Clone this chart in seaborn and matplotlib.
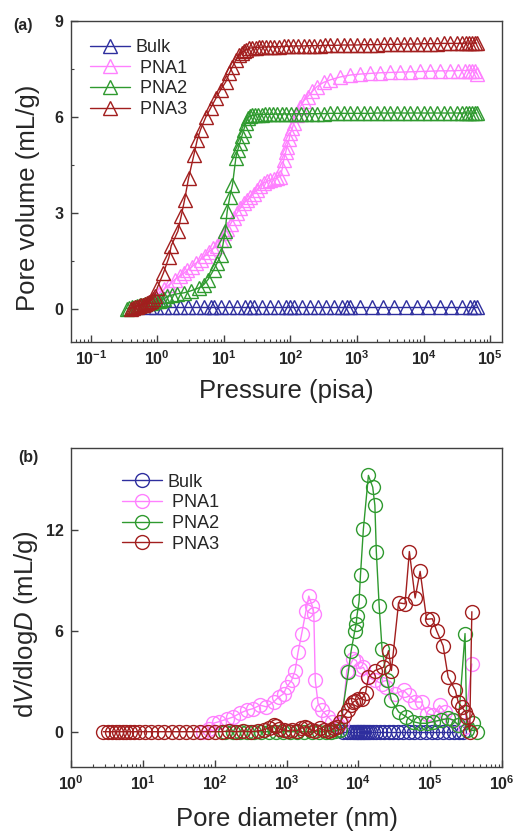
import numpy as np
import matplotlib
matplotlib.use('Agg')
import matplotlib.pyplot as plt
import seaborn as sns
from matplotlib.ticker import MultipleLocator, LogLocator, FixedLocator

sns.set_style('ticks')
plt.rcParams['font.family'] = ['Liberation Sans', 'DejaVu Sans']
plt.rcParams['mathtext.fontset'] = 'custom'
plt.rcParams['mathtext.rm'] = 'Liberation Sans'
plt.rcParams['mathtext.it'] = 'Liberation Sans:italic'
plt.rcParams['mathtext.bf'] = 'Liberation Sans:bold'

# (a) 压汞 -- 孔体积 vs 压力 (log10 pressure, mL/g)
bulk_logp = [-0.13, -0.02, 0.10, 0.22, 0.34, 0.46, 0.58, 0.70, 0.80, 0.85,
             0.96, 1.08, 1.20, 1.32, 1.40, 1.45, 1.57, 1.69, 1.81, 1.93,
             2.00, 2.05, 2.17, 2.29, 2.41, 2.53, 2.65, 2.77, 2.85, 2.90,
             3.05, 3.22, 3.39, 3.56, 3.73, 3.90, 4.07, 4.24, 4.41, 4.58,
             4.70, 4.76, 4.80]
bulk_v = [0.05, 0.05, 0.05, 0.05, 0.05, 0.05, 0.05, 0.05, 0.05, 0.05,
          0.05, 0.05, 0.05, 0.05, 0.05, 0.05, 0.05, 0.05, 0.05, 0.05,
          0.05, 0.05, 0.05, 0.05, 0.05, 0.05, 0.05, 0.05, 0.05, 0.05,
          0.05, 0.05, 0.05, 0.05, 0.05, 0.05, 0.05, 0.05, 0.05, 0.05,
          0.05, 0.05, 0.05]

pna1_logp = [-0.20, -0.12, -0.05, 0.02, 0.10, 0.18, 0.26, 0.34, 0.40, 0.45,
             0.52, 0.58, 0.65, 0.72, 0.78, 0.84, 0.90, 0.95, 1.00, 1.05,
             1.10, 1.15, 1.20, 1.25, 1.30, 1.35, 1.40, 1.45, 1.50, 1.55,
             1.60, 1.65, 1.70, 1.75, 1.80, 1.85, 1.88, 1.90, 1.93, 1.95,
             1.98, 2.00, 2.03, 2.05, 2.10, 2.15, 2.20, 2.26, 2.33, 2.40,
             2.50, 2.60, 2.75, 2.90, 3.05, 3.20, 3.35, 3.50, 3.65, 3.80,
             3.95, 4.10, 4.25, 4.40, 4.52, 4.62, 4.68, 4.73, 4.77, 4.80]
pna1_v = [0.10, 0.20, 0.30, 0.45, 0.60, 0.75, 0.90, 1.02, 1.10, 1.20,
          1.30, 1.42, 1.53, 1.65, 1.78, 1.88, 1.95, 2.15, 2.37, 2.50,
          2.65, 2.82, 3.00, 3.15, 3.30, 3.40, 3.50, 3.60, 3.72, 3.85,
          3.93, 3.98, 4.02, 4.05, 4.10, 4.13, 4.40, 4.66, 4.90, 5.07,
          5.30, 5.49, 5.65, 5.80, 6.05, 6.32, 6.50, 6.63, 6.80, 6.95,
          7.08, 7.16, 7.25, 7.31, 7.34, 7.36, 7.38, 7.39, 7.40, 7.41,
          7.42, 7.43, 7.44, 7.44, 7.45, 7.45, 7.45, 7.45, 7.45, 7.35]

pna2_logp = [-0.46, -0.42, -0.38, -0.34, -0.30, -0.26, -0.22, -0.18, -0.14, -0.10,
             -0.06, -0.02, 0.02, 0.06, 0.10,
             0.15, 0.22, 0.30, 0.40, 0.50, 0.63, 0.70, 0.76, 0.85, 0.90,
             0.96, 1.00, 1.02, 1.05, 1.09, 1.13, 1.18, 1.21, 1.24, 1.27,
             1.30, 1.33, 1.36, 1.39,
             1.43, 1.47, 1.52, 1.57, 1.62, 1.68, 1.74, 1.80, 1.87, 1.94,
             2.01, 2.08, 2.16, 2.24, 2.32, 2.40, 2.50, 2.60, 2.70, 2.80,
             2.90, 3.00, 3.10, 3.20, 3.30, 3.40, 3.50, 3.60, 3.70, 3.80,
             3.90, 4.00, 4.10, 4.20, 4.30, 4.40, 4.50, 4.58, 4.64, 4.69,
             4.73, 4.77, 4.80]
pna2_v = [0.00, 0.02, 0.04, 0.06, 0.08, 0.10, 0.12, 0.14, 0.16, 0.18,
          0.20, 0.22, 0.24, 0.27, 0.30,
          0.38, 0.42, 0.46, 0.49, 0.55, 0.65, 0.75, 0.90, 1.22, 1.43,
          1.69, 2.16, 2.42, 3.04, 3.50, 3.88, 4.71, 4.97, 5.18, 5.40,
          5.60, 5.80, 5.95, 6.02,
          6.05, 6.06, 6.07, 6.07, 6.08, 6.08, 6.08, 6.09, 6.09, 6.09,
          6.09, 6.10, 6.10, 6.10, 6.10, 6.10, 6.10, 6.11, 6.11, 6.11,
          6.11, 6.11, 6.11, 6.11, 6.12, 6.12, 6.12, 6.12, 6.12, 6.12,
          6.12, 6.12, 6.12, 6.12, 6.12, 6.12, 6.12, 6.12, 6.12, 6.12,
          6.12, 6.12, 6.12]

pna3_logp = [-0.40, -0.37, -0.34, -0.31, -0.28, -0.25, -0.22, -0.19, -0.16, -0.13,
             -0.10, -0.07, -0.04, 0.00,
             0.09, 0.175, 0.21, 0.31, 0.36, 0.41, 0.47, 0.55, 0.60, 0.65,
             0.73, 0.80, 0.88, 0.95, 1.03, 1.08, 1.13, 1.18, 1.23, 1.27, 1.30,
             1.34, 1.38, 1.43, 1.48, 1.53, 1.58, 1.64, 1.70, 1.76, 1.83,
             1.90, 1.97, 2.04, 2.12, 2.20, 2.28, 2.36, 2.44, 2.52, 2.60,
             2.70, 2.80, 2.90, 3.00, 3.10, 3.20, 3.30, 3.40, 3.50, 3.60,
             3.70, 3.80, 3.90, 4.00, 4.10, 4.20, 4.30, 4.40, 4.50,
             4.58, 4.64, 4.69, 4.73, 4.77, 4.80]
pna3_v = [0.00, 0.02, 0.04, 0.06, 0.08, 0.10, 0.12, 0.15, 0.18, 0.21,
          0.25, 0.30, 0.38, 0.65,
          1.10, 1.60, 1.97, 2.42, 2.90, 3.40, 4.08, 4.81, 5.28, 5.60,
          6.00, 6.27, 6.58, 6.84, 7.10, 7.36, 7.57, 7.78, 7.94, 8.00, 8.06,
          8.10, 8.15, 8.16, 8.17, 8.18, 8.18, 8.19, 8.19, 8.20, 8.20,
          8.21, 8.21, 8.22, 8.22, 8.22, 8.23, 8.23, 8.23, 8.24, 8.24,
          8.24, 8.25, 8.25, 8.25, 8.26, 8.26, 8.26, 8.27, 8.27, 8.27,
          8.28, 8.28, 8.28, 8.29, 8.29, 8.29, 8.30, 8.30, 8.30,
          8.30, 8.31, 8.31, 8.31, 8.31, 8.31]

# (b) 孔径分布 dV/dlogD (log10 diameter in nm)
bulk_logd = [3.79, 3.84, 3.88, 3.92, 3.95, 3.98, 4.00, 4.02, 4.04, 4.06,
             4.08, 4.10, 4.13, 4.16, 4.20, 4.25, 4.30, 4.36, 4.42, 4.48,
             4.55, 4.62, 4.70, 4.78, 4.86, 4.94, 5.02, 5.10, 5.18, 5.26,
             5.33, 5.40, 5.46]
bulk_dv = [0.0, 0.0, 0.0, 0.0, 0.0, 0.0, 0.0, 0.0, 0.0, 0.0,
           0.0, 0.0, 0.0, 0.0, 0.0, 0.0, 0.0, 0.0, 0.0, 0.0,
           0.0, 0.0, 0.0, 0.0, 0.0, 0.0, 0.0, 0.0, 0.0, 0.0,
           0.0, 0.0, 0.0]

pna1_logd = [1.84, 1.92, 1.98, 2.06, 2.17, 2.26, 2.35, 2.45, 2.54, 2.63,
             2.72, 2.82, 2.89, 2.96, 3.00, 3.07, 3.12, 3.16, 3.21, 3.27,
             3.31, 3.36, 3.38, 3.40, 3.44, 3.49, 3.58, 3.64, 3.71, 3.77,
             3.84, 3.93, 3.97, 4.02, 4.07, 4.14, 4.23, 4.33, 4.39, 4.51,
             4.63, 4.70, 4.79, 4.88, 4.95, 5.04, 5.13, 5.20, 5.30, 5.39,
             5.48, 5.58]
pna1_dv = [0.00, 0.15, 0.50, 0.60, 0.75, 0.88, 1.10, 1.28, 1.38, 1.58,
           1.48, 1.77, 2.06, 2.26, 2.65, 3.05, 3.64, 4.72, 5.80, 7.18,
           8.07, 7.47, 7.02, 3.05, 1.67, 1.28, 0.88, 0.60, 0.40, 0.50,
           3.64, 4.33, 4.23, 3.74, 3.83, 3.25, 3.05, 2.85, 2.65, 2.26,
           2.46, 2.16, 1.77, 1.77, 1.08, 0.98, 1.57, 1.18, 0.69, 0.40,
           0.30, 4.03]

pna2_logd = [2.15, 2.25, 2.35, 2.45, 2.55, 2.65, 2.75, 2.85, 2.95, 3.05,
             3.15, 3.25, 3.35, 3.45, 3.55, 3.62, 3.68, 3.74, 3.86, 3.90,
             3.95, 3.97, 3.98, 4.01, 4.03, 4.07, 4.14, 4.20, 4.23, 4.25,
             4.29, 4.33, 4.40, 4.46, 4.56, 4.67, 4.76, 4.86, 4.95, 5.04,
             5.15, 5.25, 5.32, 5.39, 5.485, 5.51, 5.60, 5.65]
pna2_dv = [0.00, 0.00, 0.00, 0.00, 0.00, 0.00, 0.00, 0.00, 0.00, 0.00,
           0.00, 0.00, 0.00, 0.00, 0.00, 0.00, 0.05, 0.10, 3.54, 4.82,
           6.00, 6.40, 6.88, 7.77, 9.35, 12.06, 15.25, 14.55, 13.47, 10.72,
           7.47, 4.92, 3.05, 1.87, 1.18, 0.88, 0.60, 0.50, 0.50, 0.60,
           0.70, 0.79, 0.70, 0.40, 5.84, 0.10, 0.50, 0.00]

pna3_logd = [0.45, 0.52, 0.57, 0.62, 0.67, 0.72, 0.77, 0.82, 0.88, 0.95,
             1.03, 1.12, 1.21, 1.30, 1.40, 1.50, 1.60, 1.70, 1.80, 1.90,
             2.00, 2.10, 2.20, 2.30, 2.40, 2.50, 2.60, 2.68, 2.76, 2.83,
             2.86, 2.90, 2.96, 3.02, 3.08, 3.14, 3.20, 3.26, 3.29, 3.34,
             3.40, 3.46, 3.52, 3.58, 3.62, 3.66, 3.70, 3.74, 3.80, 3.86,
             3.90, 3.93, 3.96, 4.00, 4.05, 4.10, 4.14, 4.23, 4.35, 4.42,
             4.46, 4.56, 4.65, 4.71, 4.79, 4.86, 4.95, 5.03, 5.09, 5.18,
             5.25, 5.35, 5.39, 5.44, 5.49, 5.51, 5.55, 5.58]
pna3_dv = [0.00, 0.00, 0.00, 0.00, 0.00, 0.00, 0.00, 0.00, 0.00, 0.00,
           0.00, 0.00, 0.00, 0.00, 0.00, 0.00, 0.00, 0.00, 0.00, 0.00,
           0.00, 0.00, 0.05, 0.00, 0.05, 0.00, 0.05, 0.10, 0.25, 0.40,
           0.35, 0.15, 0.10, 0.05, 0.10, 0.05, 0.20, 0.30, 0.25, 0.10,
           0.05, 0.20, 0.10, 0.05, 0.10, 0.20, 0.30, 0.55, 0.95, 1.28,
           1.60, 1.77, 1.85, 1.97, 1.97, 2.30, 3.25, 3.64, 3.83, 4.82,
           3.64, 7.67, 7.61, 10.72, 7.96, 9.54, 6.69, 6.72, 6.00, 5.11,
           3.25, 2.46, 1.77, 1.47, 1.18, 0.88, 0.00, 7.14]

names = ['Bulk', ' PNA1', ' PNA2', ' PNA3']
colors = ['#2e2e9e', '#ff80ff', '#2f9a2f', '#a21e1e']

# 刻度 (decades shown on each x axis)
top_decades = [1e-1, 1e0, 1e1, 1e2, 1e3, 1e4, 1e5]
bot_decades = [1e0, 1e1, 1e2, 1e3, 1e4, 1e5, 1e6]

top_sets = [(bulk_logp, bulk_v), (pna1_logp, pna1_v), (pna2_logp, pna2_v), (pna3_logp, pna3_v)]
bot_sets = [(bulk_logd, bulk_dv), (pna1_logd, pna1_dv), (pna2_logd, pna2_dv), (pna3_logd, pna3_dv)]

fig = plt.figure(figsize=(5.15, 8.31), dpi=100)
ax1 = fig.add_axes([0.1379, 0.5884, 0.8369, 0.3863])
ax2 = fig.add_axes([0.1379, 0.0774, 0.8369, 0.3839])

for (lx, v), name, c in zip(top_sets, names, colors):
    sns.lineplot(x=np.power(10.0, lx), y=v, ax=ax1, color=c, linewidth=1,
                 marker='^', markersize=10.5, markerfacecolor='none',
                 markeredgecolor=c, markeredgewidth=1,
                 label=name, sort=False, estimator=None, legend=False)

for (lx, v), name, c in zip(bot_sets, names, colors):
    sns.lineplot(x=np.power(10.0, lx), y=v, ax=ax2, color=c, linewidth=1,
                 marker='o', markersize=10, markerfacecolor='none',
                 markeredgecolor=c, markeredgewidth=1,
                 label=name, sort=False, estimator=None, legend=False)

ax1.set_xscale('log')
ax1.set_xlim(0.0506, 1.51e5)
ax1.set_ylim(-1.05, 9)
ax1.yaxis.set_major_locator(MultipleLocator(3))
ax1.yaxis.set_minor_locator(MultipleLocator(1.5))
ax1.xaxis.set_major_locator(FixedLocator(top_decades))
ax1.xaxis.set_minor_locator(LogLocator(base=10, subs=np.arange(2, 10), numticks=12))

ax2.set_xscale('log')
ax2.set_xlim(1, 1e6)
ax2.set_ylim(-2.08, 16.9)
ax2.yaxis.set_major_locator(MultipleLocator(6))
ax2.xaxis.set_major_locator(FixedLocator(bot_decades))
ax2.xaxis.set_minor_locator(LogLocator(base=10, subs=np.arange(2, 10), numticks=12))

ax1.set_xlabel('Pressure (pisa)', fontsize=18.5)
ax1.set_ylabel('Pore volume (mL/g)', fontsize=18.5)
ax2.set_xlabel('Pore diameter (nm)', fontsize=18.5)
ax2.set_ylabel(r'd$\it{V}$/dlog$\it{D}$ (mL/g)', fontsize=18.5)
ax1.xaxis.set_label_coords(0.5, -0.115)
ax2.xaxis.set_label_coords(0.5, -0.125)
ax1.yaxis.set_label_coords(-0.072, 0.45)
ax2.yaxis.set_label_coords(-0.072, 0.447)

for ax in (ax1, ax2):
    for s in ax.spines.values():
        s.set_color('#404040')
        s.set_linewidth(1.0)
    ax.tick_params(which='major', direction='in', length=5, width=1, pad=5.5,
                   labelsize=11.5, color='#404040', top=False, right=False)
    ax.tick_params(which='minor', direction='in', length=2.5, width=0.8,
                   color='#404040', top=False, right=False)
    plt.setp(ax.get_xticklabels() + ax.get_yticklabels(), fontweight='bold')

ax1.legend(loc='upper left', bbox_to_anchor=(0.044, 0.944), frameon=False,
           fontsize=13, handlelength=2.2, handletextpad=0.3, labelspacing=0.2,
           borderpad=0, borderaxespad=0)
ax2.legend(loc='upper left', bbox_to_anchor=(0.118, 0.918), frameon=False,
           fontsize=13, handlelength=2.2, handletextpad=0.3, labelspacing=0.2,
           borderpad=0, borderaxespad=0)

fig.text(0.045, 0.969, '(a)', fontsize=11.5, fontweight='bold', ha='center', va='center')
fig.text(0.056, 0.449, '(b)', fontsize=11.5, fontweight='bold', ha='center', va='center')

fig.savefig('out.png', dpi=100)
